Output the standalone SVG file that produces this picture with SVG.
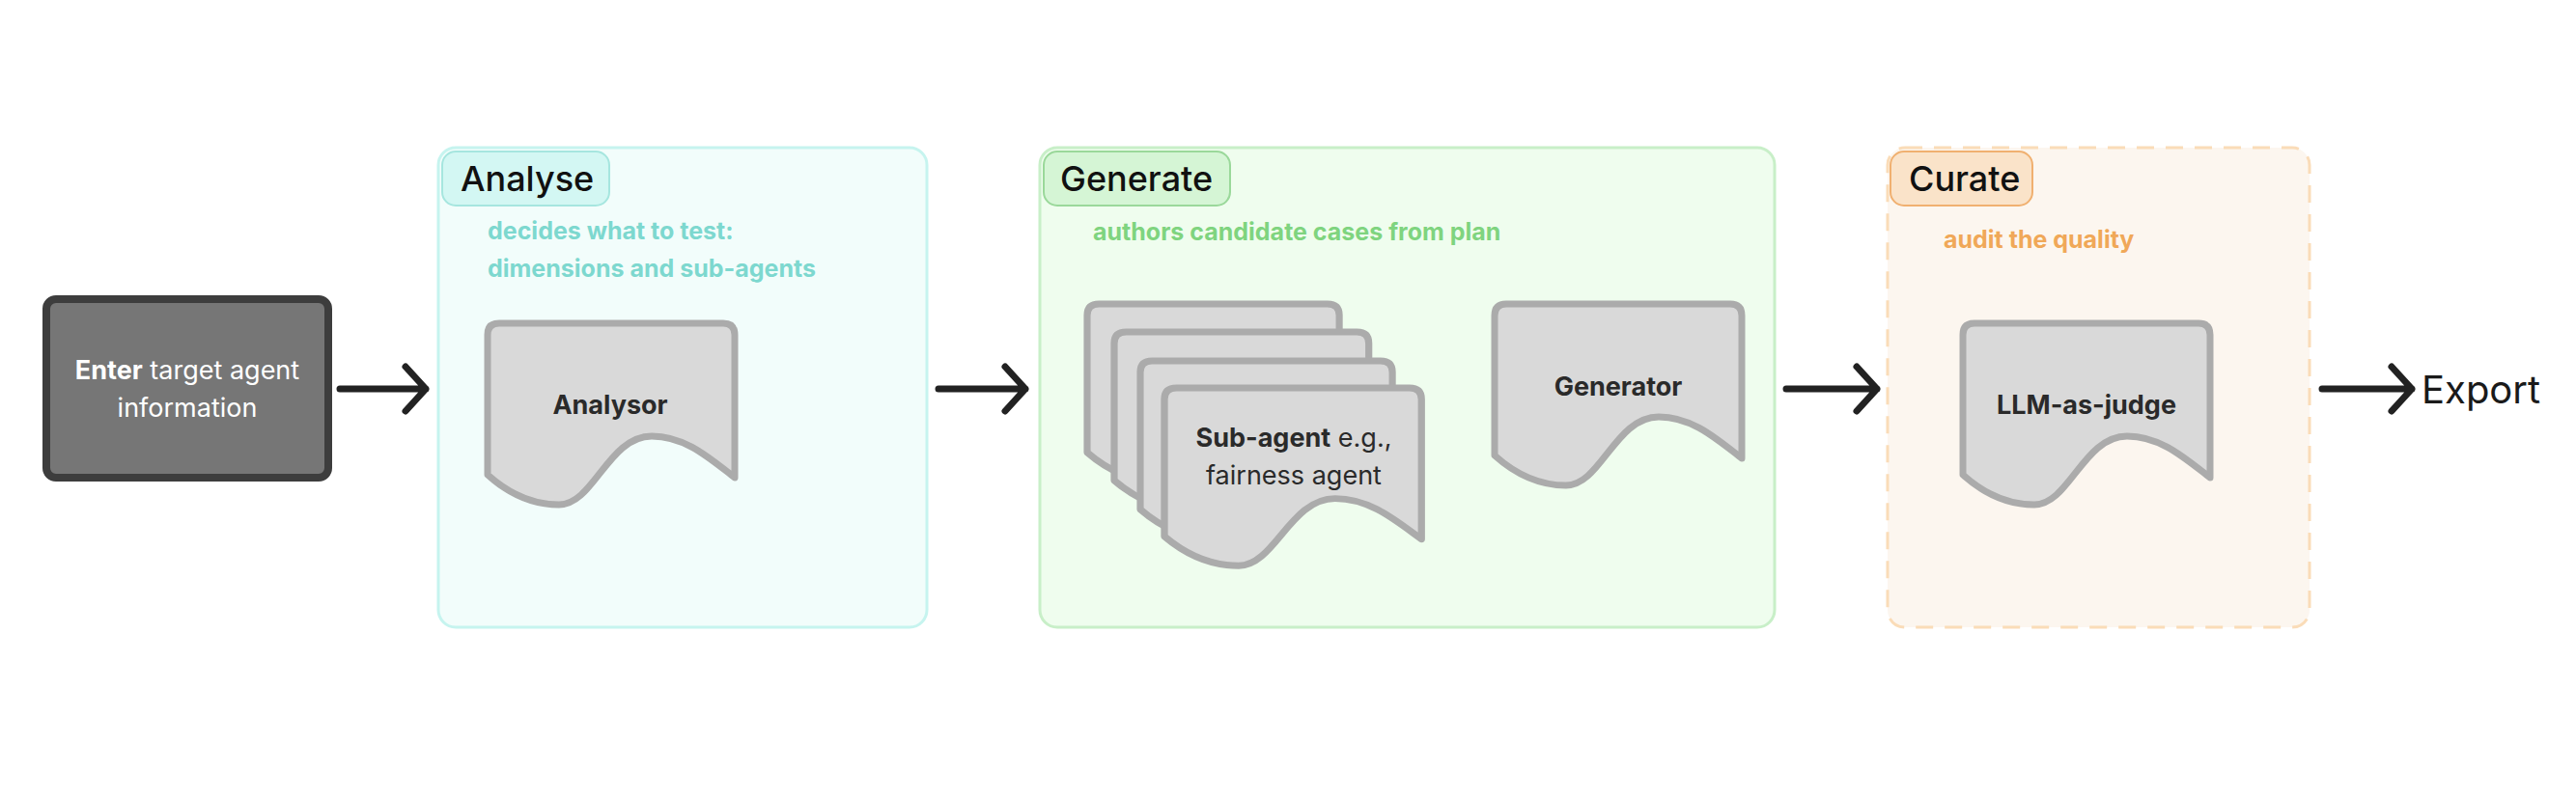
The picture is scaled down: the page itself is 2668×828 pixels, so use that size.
<svg xmlns="http://www.w3.org/2000/svg" width="2668" height="828" viewBox="0 0 2668 828">
<style>
text{font-family:Inter,"Liberation Sans",sans-serif}
.doc{fill:#d9d9d9;stroke:#ababab;stroke-width:7;stroke-linejoin:round}
.lbl{font-size:27px;fill:#2a2a2a;text-anchor:middle}
.b{font-weight:700}
.tag{font-size:36px;font-weight:500;fill:#111}
.desc{font-size:25px;font-weight:700}
.arr{fill:none;stroke:#222;stroke-width:7;stroke-linecap:round;stroke-linejoin:round}
</style>
<defs>
<path id="doc" d="M0 12 Q0 0 12 0 H244 Q256 0 256 12 V160 C230 140 205 117 170 117 C125 117 110 188 74 188 C45 188 20 175 0 157 Z"/>
</defs>
<rect width="2668" height="828" fill="#fff"/>
<g id="enter">
<rect x="48" y="310" width="292" height="185" rx="10" fill="#767676" stroke="#3d3d3d" stroke-width="8"/>
<text x="194" y="393" font-size="27" fill="#fff" text-anchor="middle"><tspan font-weight="700">Enter</tspan> target agent</text>
<text x="194" y="432" font-size="27" fill="#fff" text-anchor="middle">information</text>
</g>
<g id="analyse">
<rect x="454" y="153" width="506" height="497" rx="18" fill="#f2fdfb" stroke="#c6f4ef" stroke-width="3"/>
<rect x="458" y="157" width="173" height="56" rx="14" fill="#d3f7f3" stroke="#a6e6df" stroke-width="2"/>
<text class="tag" x="477" y="198">Analyse</text>
<text class="desc" x="505" y="248" fill="#7dd8cf">decides what to test:</text>
<text class="desc" x="505" y="287" fill="#7dd8cf">dimensions and sub-agents</text>
</g>
<g id="analysor">
<use href="#doc" class="doc" transform="translate(505,335)"/>
<text class="lbl b" x="632" y="429">Analysor</text>
</g>
<g id="generate">
<rect x="1077" y="153" width="761" height="497" rx="18" fill="#effdee" stroke="#c8efc8" stroke-width="3"/>
<rect x="1081" y="157" width="193" height="56" rx="14" fill="#d5f5d5" stroke="#9ad89a" stroke-width="2"/>
<text class="tag" x="1098" y="198">Generate</text>
<text class="desc" x="1132" y="249" fill="#7fd47f">authors candidate cases from plan</text>
</g>
<g id="subagents">
<use href="#doc" class="doc" transform="translate(1126,315) scale(1.02,0.98)"/>
<use href="#doc" class="doc" transform="translate(1154,344) scale(1.03,0.98)"/>
<use href="#doc" class="doc" transform="translate(1181,374) scale(1.02,0.98)"/>
<use href="#doc" class="doc" transform="translate(1206,402) scale(1.04,0.98)"/>
<text class="lbl" x="1340" y="463"><tspan font-weight="700">Sub-agent</tspan> e.g.,</text>
<text class="lbl" x="1340" y="502">fairness agent</text>
</g>
<g id="generator">
<use href="#doc" class="doc" transform="translate(1548,315)"/>
<text class="lbl b" x="1676" y="410">Generator</text>
</g>
<g id="curate">
<rect x="1955" y="153" width="437" height="497" rx="18" fill="#fcf6ef" stroke="#fadcb8" stroke-width="3" stroke-dasharray="18 12"/>
<rect x="1958" y="157" width="147" height="56" rx="14" fill="#fae3c9" stroke="#f0b070" stroke-width="2"/>
<text class="tag" x="1977" y="198">Curate</text>
<text class="desc" x="2013" y="257" fill="#f0a858">audit the quality</text>
</g>
<g id="judge">
<use href="#doc" class="doc" transform="translate(2033,335)"/>
<text class="lbl b" x="2161" y="429">LLM-as-judge</text>
</g>
<g id="export">
<text x="2508" y="418" font-size="40" fill="#1a1a1a">Export</text>
</g>
<g id="connectors">
<path class="arr" d="M352 403 H441 M420 380 L441 403 L420 426"/>
<path class="arr" d="M972 403 H1062 M1041 380 L1062 403 L1041 426"/>
<path class="arr" d="M1850 403 H1944 M1923 380 L1944 403 L1923 426"/>
<path class="arr" d="M2405 403 H2498 M2477 380 L2498 403 L2477 426"/>
</g>
</svg>
